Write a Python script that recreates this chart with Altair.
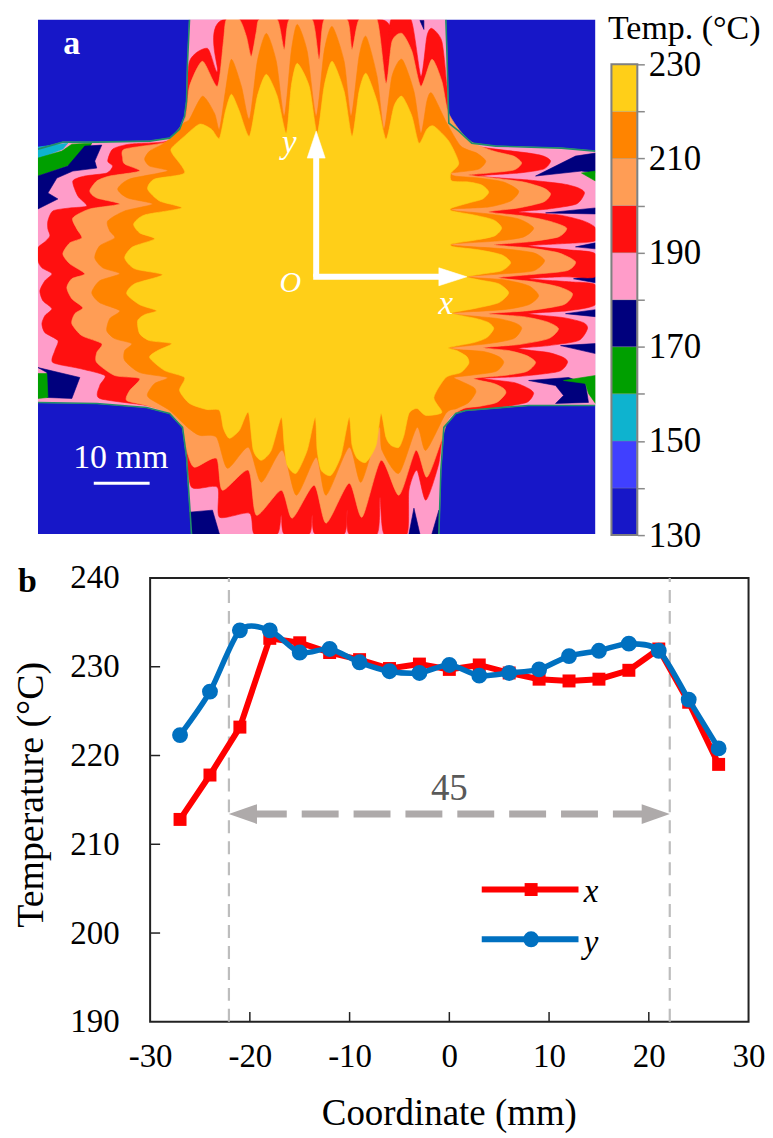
import altair as alt
import pandas as pd

FONT = "Liberation Serif"

# ---- panel a: isotherm regions, in map coordinates ----
CROSS = [(190,18),(188,60),(187,100),(185,115),(180,128),(170,137),(150,140),(97,141),(63,141),(38,148),
         (38,402),(97,403),(147,407),(170,413),(183,427),(187,457),(192,534),(440,534),(442,470),(445,427),
         (457,413),(467,410),(530,405),(597,405),(597,150),(563,147),(497,145),(473,142),(460,130),(450,122),
         (448,48),(447,18)]
RED = [(190,60),(208,47),(218,70),(224,18),(383,18),(388,60),(392,18),(412,18),(422,75),(428,35),(433,27),(443,40),(448,85),
       (450,122),(460,132),(473,144),(497,148),(530,152),(545,155),(552,160),(545,168),(520,172),(480,175),(530,179),(565,183),(580,187),(586,192),(578,203),(550,208),(520,211),(560,214),(585,220),(597,227),(597,240),(560,243),(530,245),(570,249),(597,253),(597,276),(565,276),(530,278),(570,281),(597,284),(597,304),(570,310),(530,313),(565,317),(585,322),(589,328),(580,340),(550,345),(520,348),(550,352),(565,357),(569,362),(560,371),(520,376),(485,378),(515,382),(530,388),(535,393),(528,402),(500,407),(480,409),(457,412),
       (445,425),(440,463),(427,500),(418,470),(410,490),(408,534),(385,534),(381,497),(378,534),
       (350,534),(348,510),(345,534),(316,534),(313,515),(310,534),(285,534),(282,515),(278,534),(255,534),(250,513),(220,517),(218,487),(192,487),(187,450),(183,425),(170,412),
       (147,405),(100,398),(100,385),(105,375),(80,368),(53,362),(55,350),(58,340),(45,332),(42,323),(45,315),(52,308),(43,300),(40,290),(45,280),(52,273),(42,267),(38,260),(38,247),(45,241),(50,235),(48,228),(48,220),(53,210),(70,207),(87,205),(78,195),(73,180),(85,175),
       (107,172),(113,165),(108,160),(113,148),(130,143),(163,141),(175,136),(186,116)]
LIGHT = [(190,85),(203,60),(218,85),(224,40),(227,18),(240,18),(247,35),(252,55),(257,30),(260,18),(278,18),(285,48),(290,18),(313,18),(320,58),(325,18),(348,18),(353,48),(360,18),(378,18),(387,82),
         (393,40),(403,32),(413,50),(422,85),(433,58),(443,80),
         (449,110),(460,128),(473,141),(495,150),(515,155),(523,162),(515,169),(490,172),(470,174),(495,177),(525,181),(545,187),(552,193),(545,201),(520,207),(490,211),(525,215),(550,220),(568,227),(560,236),(530,241),(495,244),(530,247),(560,252),(577,261),(568,270),(530,274),(500,277),(535,281),(560,286),(574,293),(565,304),(530,310),(490,313),(525,316),(548,321),(560,328),(550,338),(520,344),(485,347),(510,350),(528,355),(537,362),(528,371),(505,375),(475,378),(495,383),(505,388),(507,393),(498,402),(480,406),(465,408),
         (450,418),(442,442),(428,477),(417,450),(400,495),(382,460),(363,517),(350,483),(327,523),(315,485),(293,518),(282,490),(257,515),(249,470),(223,490),(217,458),
         (195,467),(188,453),(182,425),(170,413),(147,405),(127,400),(130,390),(140,378),(115,375),(97,362),(97,352),(102,343),(82,335),(72,323),(75,313),(83,307),(72,298),(67,287),(72,278),(85,273),(70,263),(63,253),(70,242),(82,237),(77,228),(73,217),(90,208),(120,203),(97,197),(90,190),(97,180),(110,175),(140,170),
         (125,163),(123,157),(125,148),(163,142),(175,136),(186,116)]
ORANGE = [(190,118),(203,95),(215,112),(220,128),(226,90),(232,58),(242,85),(250,118),(258,60),(267,32),(277,60),(285,115),(292,50),(298,23),(308,50),(317,115),(325,50),(333,25),(345,60),(352,115),(360,55),(367,35),(378,75),(385,128),
          (393,75),(403,58),(415,90),(422,132),(428,100),(433,92),
          (448,122),(462,145),(478,152),(487,160),(480,168),(460,171),(452,172),(456,175),(480,177),(505,181),(520,190),(512,200),(490,206),(454,208),(458,210),(490,213),(520,218),(535,227),(525,236),(500,240),(454,243),(460,245),(505,248),(535,252),(546,260),(535,270),(505,273),(467,276),(505,279),(530,285),(540,295),(530,304),(505,309),(455,312),(460,314),(500,318),(518,323),(523,328),(515,338),(490,343),(452,347),(460,349),(485,351),(500,356),(505,362),(497,371),(470,375),(455,377),(465,382),(475,387),(477,392),(470,402),(458,408),
          (447,413),(427,450),(418,427),(400,473),(383,450),(380,427),(362,482),(350,447),(327,495),(317,457),(297,495),(283,450),(262,482),(249,447),(228,468),(217,437),(200,435),(188,427),(170,410),
          (150,398),(148,393),(155,383),(168,377),(140,372),(125,360),(125,350),(132,343),(115,338),(107,330),(110,318),(120,310),(100,302),(92,292),(100,280),(120,273),(103,267),(95,257),(100,245),(115,237),(110,230),(108,220),(125,210),(153,203),(128,197),(118,188),(130,178),(168,170),(150,165),(145,158),(150,150),(163,143),(172,136),(184,122)]
YELLOW = [(172,147),(185,135),(200,123),(212,128),(220,137),(226,110),(232,93),(240,110),(250,135),(258,95),(267,73),(278,95),(287,132),(292,85),(298,62),(310,85),(318,132),(325,85),(333,60),(345,90),(353,135),(360,90),(367,72),(378,100),(387,138),(395,105),(403,95),(413,115),(420,142),(428,128),(435,125),
          (450,140),(460,162),(452,172),(453,180),(470,181),(483,184),(490,191),(484,198),(470,202),(453,207),(453,210),(475,214),(495,219),(503,227),(496,235),(478,239),(453,243),(455,246),(480,249),(503,254),(512,262),(503,270),(485,273),(468,276),(480,279),(500,283),(510,292),(500,302),(475,308),(453,312),(458,314),(478,318),(490,322),(495,328),(488,337),(475,342),(450,347),(458,350),(468,356),(470,363),(462,372),(447,377),
          (435,397),(443,412),(427,415),(418,408),(410,413),
          (405,435),(400,447),(392,445),(387,437),(382,413),(377,445),(367,462),(358,458),(353,445),(350,417),(342,455),(332,475),(322,470),(318,450),(316,417),(308,450),(297,473),(288,465),(285,445),(282,417),(272,450),(262,460),(254,450),(249,412),(240,430),(230,438),(224,428),(220,410),(207,409),(190,403),(180,390),
          (185,377),(165,370),(150,357),(158,350),(172,343),(150,340),(140,333),(138,320),(145,314),(157,310),(140,304),(127,293),(135,283),(163,274),(135,268),(125,257),(133,246),(155,238),(140,232),(134,223),(145,214),(182,207),(160,200),(148,188),(155,178),(185,172),(173,153)]
PATCHES = [
    ("#0eb3cf", [(38,146),(68,142),(63,148),(38,158)]),
    ("#009f00", [(38,157),(62,150),(72,143),(92,142),(85,155),(70,164),(38,175)]),
    ("#00007d", [(85,145),(102,144),(95,160),(97,167),(73,170),(57,177),(48,192),(58,198),(38,208),(38,175),(68,165)]),
    ("#00007d", [(38,367),(80,377),(72,398),(47,397),(47,372)]),
    ("#009f00", [(38,373),(47,373),(48,397),(38,398)]),
    ("#00007d", [(577,155),(597,152),(597,172),(583,170),(537,175)]),
    ("#009f00", [(583,172),(597,170),(597,180)]),
    ("#00007d", [(547,212),(597,207),(597,213)]),
    ("#00007d", [(577,246),(597,242),(597,248)]),
    ("#00007d", [(575,278),(597,274),(597,282)]),
    ("#00007d", [(567,313),(597,309),(597,316)]),
    ("#00007d", [(562,345),(597,343),(597,353)]),
    ("#00007d", [(530,380),(570,377),(587,383),(590,402),(557,403),(565,395),(557,385)]),
    ("#009f00", [(565,380),(597,375),(597,403),(590,393),(587,383)]),
    ("#00007d", [(190,512),(213,510),(220,534),(192,534)]),
    ("#00007d", [(410,534),(415,508),(421,534)]),
    ("#00007d", [(433,534),(440,510),(440,534)]),
    ("#00007d", [(421,19),(425,19),(425,28)]),
]
MAP_LEFT, MAP_RIGHT, MAP_TOP, MAP_BOTTOM = 38, 597, 18, 534
BLUE, PINK, REDC, LIGHTC, ORANGEC, YELLOWC = "#1717c8", "#ff9cc9", "#ff1010", "#ff9d55", "#ff8400", "#ffcf18"

# colour bar
BAR_LO = [130,140,150,160,170,180,190,200,210,220]
BAR_HI = [140,150,160,170,180,190,200,210,220,230]
BAR_COLORS = [BLUE,"#4040ff","#0eb3cf","#009f00","#00007d",PINK,REDC,LIGHTC,ORANGEC,YELLOWC]

# ---- panel b ----
COORD = [-27,-24,-21,-18,-15,-12,-9,-6,-3,0,3,6,9,12,15,18,21,24,27]
TEMP_X = [212.8,217.8,223.2,233.2,232.7,231.6,230.8,229.8,230.3,229.7,230.2,229.3,228.6,228.4,228.6,229.6,232.0,226.0,219.0]
TEMP_Y = [222.3,227.2,234.1,234.1,231.6,232.0,230.5,229.5,229.3,230.2,229.0,229.3,229.7,231.2,231.8,232.6,231.8,226.3,220.8]

PX = alt.Scale(domain=[8, 765], nice=False, zero=False)
PY = alt.Scale(domain=[535, 8], nice=False, zero=False)
EX = alt.X("x:Q", scale=PX, axis=None)
EY = alt.Y("y:Q", scale=PY, axis=None)

def poly(points, color, stroke=None, width=0.6):
    df = pd.DataFrame(points, columns=["x", "y"])
    df["i"] = range(len(df))
    return alt.Chart(df).mark_line(
        interpolate="cardinal-closed", tension=0.3, fill=color,
        stroke=stroke or color, strokeWidth=width, clip=True
    ).encode(x=EX, y=EY, order="i:Q")

def sharp(points, color, stroke=None, width=0.6):
    df = pd.DataFrame(points, columns=["x", "y"])
    df["i"] = range(len(df))
    return alt.Chart(df).mark_line(
        interpolate="linear-closed", fill=color, stroke=stroke or color, strokeWidth=width
    ).encode(x=EX, y=EY, order="i:Q")

def edge(points):
    df = pd.DataFrame(points, columns=["x", "y"])
    df["i"] = range(len(df))
    return alt.Chart(df).mark_line(color="#1f8f6a", strokeWidth=1.6).encode(x=EX, y=EY, order="i:Q")

def block(x1, y1, x2, y2, color):
    return alt.Chart(pd.DataFrame({"x":[x1],"x2":[x2],"y":[y1],"y2":[y2]})).mark_rect(color=color).encode(x=EX, x2="x2:Q", y=EY, y2="y2:Q")

def txt(s, x, y, size, color="black", style="normal", weight="normal", align="center", baseline="middle"):
    return alt.Chart(pd.DataFrame({"x":[x],"y":[y],"t":[s]})).mark_text(
        font=FONT, fontSize=size, color=color, fontStyle=style, fontWeight=weight, align=align, baseline=baseline
    ).encode(x=EX, y=EY, text="t:N")

def seg(x1, y1, x2, y2, w, color="white"):
    return alt.Chart(pd.DataFrame({"x":[x1],"y":[y1],"x2":[x2],"y2":[y2]})).mark_rule(strokeWidth=w, color=color).encode(
        x=EX, x2="x2:Q", y=EY, y2="y2:Q")

map_layers = [block(MAP_LEFT, MAP_TOP, MAP_RIGHT, MAP_BOTTOM, BLUE), sharp(CROSS, PINK)]
map_layers += [sharp(p, c) for c, p in PATCHES]
map_layers += [poly(RED, REDC), poly(LIGHT, LIGHTC), poly(ORANGE, ORANGEC), poly(YELLOW, YELLOWC)]
map_layers += [edge(CROSS[0:10]), edge(CROSS[10:17]), edge(CROSS[17:24]), edge(CROSS[24:32])]
map_layers += [block(30, 8, 605, MAP_TOP, "white"), block(MAP_RIGHT, 8, 605, 535, "white"), block(30, MAP_BOTTOM, 605, 535, "white"), block(30, 8, MAP_LEFT, 535, "white")]
map_layers += [
    sharp([(317,130),(308,157),(326,157)], "white"),
    sharp([(468,276),(440,267),(440,285)], "white"),
    seg(317,276,317,155,6), seg(314,276,442,276,6),
    txt("y",290,142,33,"white","italic"), txt("x",447,303,33,"white","italic"), txt("O",291,282,30,"white","italic"),
    txt("a",72,43,34,"white",weight="bold"),
    txt("10 mm",121,458,34,"white"), seg(94,483,150,483,3),
]

# colour bar with own temperature axis
bar_df = pd.DataFrame({"lo":BAR_LO,"hi":BAR_HI,"c":BAR_COLORS,"x":[613.5]*10,"x2":[638.5]*10})
TY = alt.Scale(domain=[130, 130+527/4.72], nice=False, zero=False)
bar = alt.Chart(bar_df).mark_rect(stroke="#8a8a8a", strokeWidth=0.3).encode(
    x=EX, x2="x2:Q",
    y=alt.Y("lo:Q", scale=TY, axis=alt.Axis(
        orient="right", offset=-(765-639), values=list(range(130,231,10)), grid=False, domain=False,
        tickSize=7, tickColor="#8a8a8a", tickWidth=1.5, labelFont=FONT, labelFontSize=35, labelColor="black",
        labelPadding=4, title=None, labelExpr="(datum.value-130)%20==0 ? datum.label : ''", labelFlush=False, labelOverlap=False)),
    y2="hi:Q", fill=alt.Fill("c:N", scale=None))
bar_frame = alt.Chart(pd.DataFrame({"x":[613],"x2":[639],"lo":[130],"hi":[230]})).mark_rect(fill="transparent", stroke="#808080", strokeWidth=2).encode(
    x=EX, x2="x2:Q", y=alt.Y("lo:Q", scale=TY, axis=None), y2="hi:Q")
temp_title = txt("Temp. (°C)", 686, 11, 34, baseline="top")

panel_a = alt.layer(*map_layers, bar, bar_frame, temp_title).resolve_scale(y="independent").properties(width=757, height=527)

# ---- panel b ----
BX = alt.Scale(domain=[-44.25, 31.45], nice=False, zero=False)
BY = alt.Scale(domain=[190, 240], nice=False, zero=False)
xa = alt.Axis(values=list(range(-30,31,10)), grid=False, domain=False, ticks=False, labelFont=FONT, labelFontSize=33, labelColor="black",
              labelPadding=19, title="Coordinate (mm)", titleFont=FONT, titleFontSize=37, titleFontWeight="normal", titleColor="black",
              titleX=442, titleY=92, titleBaseline="middle", labelFlush=False, labelExpr="''+datum.value")
ya = alt.Axis(values=list(range(190,241,10)), grid=False, domain=False, ticks=False, labelFont=FONT, labelFontSize=33, labelColor="black",
              labelPadding=31, offset=-142.5, title="Temperature (°C)", titleFont=FONT, titleFontSize=38, titleFontWeight="normal", titleColor="black",
              titleX=-119, titleY=217, titleBaseline="middle", labelFlush=False)

df = pd.DataFrame({"c":COORD,"x":TEMP_X,"y":TEMP_Y})
CX = alt.X("c:Q", scale=BX, axis=xa, title="Coordinate (mm)")
TT = alt.Y("t:Q", scale=BY, axis=ya, title="Temperature (°C)")
frame = alt.Chart(pd.DataFrame({"c":[-30],"c2":[30],"t":[190],"t2":[240]})).mark_rect(fill="transparent", stroke="#222222", strokeWidth=2).encode(
    x=CX, x2="c2:Q", y=TT, y2="t2:Q")
xt = alt.Chart(pd.DataFrame({"c":[-20,-10,0,10,20],"t":[190]*5,"t2":[191.1]*5})).mark_rule(color="#222222", strokeWidth=1.5).encode(
    x=CX, y=TT, y2="t2:Q")
yt = alt.Chart(pd.DataFrame({"c":[-30]*4,"c2":[-29]*4,"t":[200,210,220,230]})).mark_rule(color="#222222", strokeWidth=1.5).encode(
    x=CX, x2="c2:Q", y=TT)
dash = alt.Chart(pd.DataFrame({"c":[-22.1,22.1],"t":[190,190],"t2":[240,240]})).mark_rule(color="#bdbdbd", strokeWidth=2.2, strokeDash=[13,8]).encode(
    x=CX, y=TT, y2="t2:Q")
arrow = alt.Chart(pd.DataFrame({"c":[-20],"c2":[20],"t":[213.4]})).mark_rule(color="#aeaaaa", strokeWidth=7, strokeDash=[37,15]).encode(
    x=CX, x2="c2:Q", y=TT)
headl = alt.Chart(pd.DataFrame({"c":[-22.1+1.4],"t":[213.4]})).mark_point(shape="M-1,0L1,-0.7L1,0.7Z", size=800, filled=True, opacity=1, color="#aeaaaa").encode(x=CX, y=TT)
headr = alt.Chart(pd.DataFrame({"c":[22.1-1.4],"t":[213.4]})).mark_point(shape="M1,0L-1,-0.7L-1,0.7Z", size=800, filled=True, opacity=1, color="#aeaaaa").encode(x=CX, y=TT)

def btxt(s, c, t, size, color="black", style="normal", weight="normal"):
    return alt.Chart(pd.DataFrame({"c":[c],"t":[t],"s":[s]})).mark_text(font=FONT, fontSize=size, color=color, fontStyle=style, fontWeight=weight).encode(
        x=CX, y=TT, text="s:N")

RED_L, BLUE_L = "#ff0000", "#0070c0"
VX = alt.Y("x:Q", scale=BY, axis=ya, title="Temperature (°C)")
VY = alt.Y("y:Q", scale=BY, axis=ya, title="Temperature (°C)")
line_x = alt.Chart(df).mark_line(color=RED_L, strokeWidth=6).encode(x=CX, y=VX)
pts_x = alt.Chart(df).mark_point(shape="square", size=169, filled=True, opacity=1, color=RED_L).encode(x=CX, y=VX)
line_y = alt.Chart(df).mark_line(color=BLUE_L, strokeWidth=5.5, interpolate="cardinal", tension=0.2).encode(x=CX, y=VY)
pts_y = alt.Chart(df).mark_point(shape="circle", size=254, filled=True, opacity=1, color=BLUE_L).encode(x=CX, y=VY)

def key(t, color, shape, size, name, tt):
    r = alt.Chart(pd.DataFrame({"c":[3.25],"c2":[12.95],"t":[t]})).mark_rule(color=color, strokeWidth=6).encode(x=CX, x2="c2:Q", y=TT)
    p = alt.Chart(pd.DataFrame({"c":[8.2],"t":[t]})).mark_point(shape=shape, size=size, filled=True, opacity=1, color=color).encode(x=CX, y=TT)
    return [r, p, btxt(name, 14.2, tt, 33, style="italic")]

panel_b = alt.layer(
    frame, xt, yt, dash, arrow, headl, headr, btxt("45", 0, 216.2, 37, color="#595959"),
    line_x, pts_x, line_y, pts_y,
    *key(204.9, RED_L, "square", 169, "x", 204.6), *key(199.3, BLUE_L, "circle", 254, "y", 198.9),
    btxt("b", -42.3, 239.6, 34, weight="bold"),
).properties(width=757, height=445)

chart = alt.vconcat(panel_a, panel_b, spacing=43, bounds="flush", padding=0).configure_view(stroke=None)

chart.save("out.html", embed_options={"renderer": "svg", "actions": False})
